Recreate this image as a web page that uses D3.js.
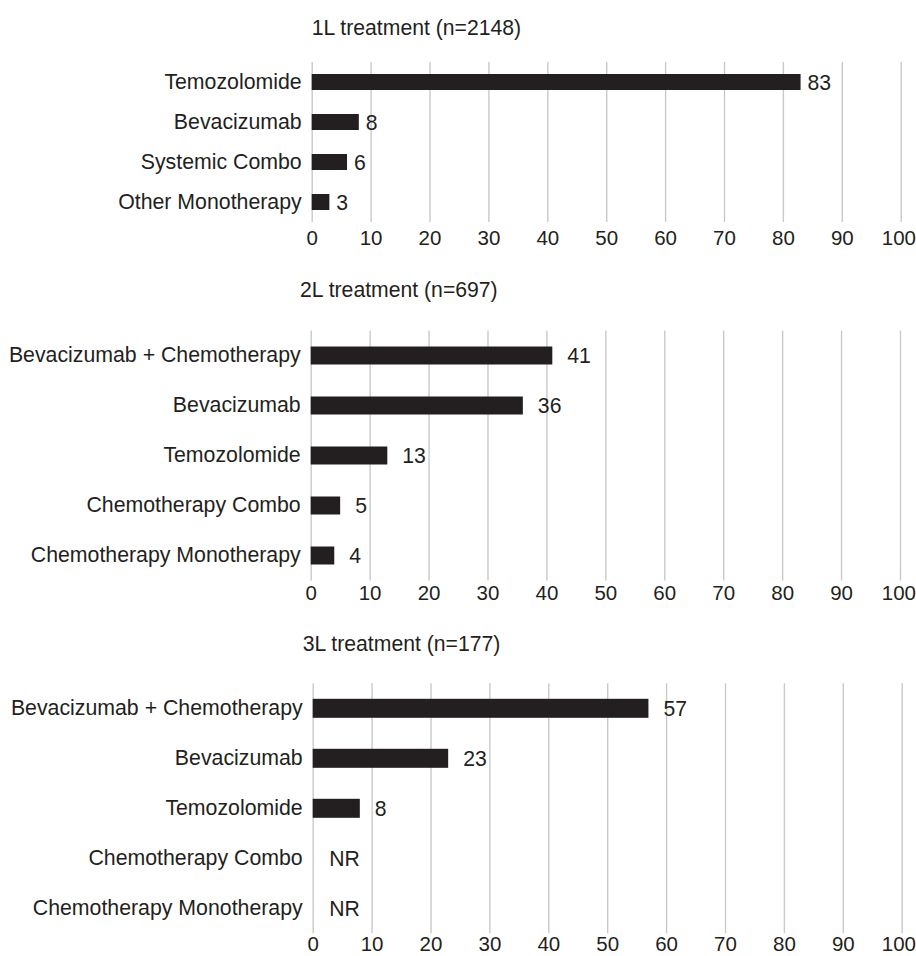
<!DOCTYPE html>
<html>
<head>
<meta charset="utf-8">
<script src="https://cdn.jsdelivr.net/npm/d3@7"></script>
<style>
  html, body { margin: 0; padding: 0; background: #ffffff; }
  svg { display: block; }
  text { font-family: "Liberation Sans", Arial, Helvetica, sans-serif; fill: #231f20; }
</style>
</head>
<body>
<svg id="chart" width="916" height="956"></svg>
<script>
// ---- data ----
const titles = ["1L treatment (n=2148)", "2L treatment (n=697)", "3L treatment (n=177)"];

const firstLineCategories = ["Temozolomide", "Bevacizumab", "Systemic Combo", "Other Monotherapy"];
const firstLineValues = [83, 8, 6, 3];

const secondLineCategories = ["Bevacizumab + Chemotherapy", "Bevacizumab", "Temozolomide",
  "Chemotherapy Combo", "Chemotherapy Monotherapy"];
const secondLineValues = [41, 36, 13, 5, 4];

const thirdLineCategories = ["Bevacizumab + Chemotherapy", "Bevacizumab", "Temozolomide",
  "Chemotherapy Combo", "Chemotherapy Monotherapy"];
const thirdLineValues = [57, 23, 8, null, null]; // null = not reported

const tickValues = [0, 10, 20, 30, 40, 50, 60, 70, 80, 90, 100];
const notReportedLabel = "NR";

// ---- layout per panel ----
const panels = [
  { title: titles[0], cats: firstLineCategories, vals: firstLineValues,
    x0: 311.7, x1: 900.7, top: 62, step: 40, pad: 0.6, labelGap: 7,
    titleX: 311.7, titleY: 35, tickY: 245 },
  { title: titles[1], cats: secondLineCategories, vals: secondLineValues,
    x0: 310.7, x1: 900, top: 330.5, step: 50, pad: 0.64, labelGap: 15,
    titleX: 300, titleY: 297, tickY: 600 },
  { title: titles[2], cats: thirdLineCategories, vals: thirdLineValues,
    x0: 312.7, x1: 901.7, top: 683.3, step: 50, pad: 0.62, labelGap: 15,
    titleX: 302.7, titleY: 651, tickY: 951 }
];

const FS_CAT = 21.3;
const FS_TITLE = 21.2;
const FS_TICK = 20.5;
const FS_VAL = 21.2;
const ink = "#231f20";
const gridColor = "#c9c9c9";
const rightEdge = 915.5;

const svg = d3.select("#chart");

panels.forEach(p => {
  const g = svg.append("g");
  const bottom = p.top + p.step * p.cats.length;

  const x = d3.scaleLinear().domain([0, 100]).range([p.x0, p.x1]);
  const y = d3.scaleBand()
    .domain(p.cats)
    .range([p.top, bottom])
    .paddingInner(p.pad)
    .paddingOuter(p.pad / 2);

  // vertical gridlines
  const grid = g.append("g")
    .attr("transform", `translate(0,${bottom})`)
    .call(d3.axisBottom(x).tickValues(tickValues).tickSize(-(bottom - p.top)).tickFormat(""));
  grid.select(".domain").remove();
  grid.selectAll(".tick line").attr("stroke", gridColor).attr("stroke-width", 1.4);

  // tick labels
  const axis = g.append("g")
    .attr("transform", `translate(0,${p.tickY})`)
    .call(d3.axisBottom(x).tickValues(tickValues).tickSize(0).tickPadding(0).tickFormat(d3.format("d")));
  axis.select(".domain").remove();
  axis.selectAll(".tick text")
    .attr("y", 0).attr("dy", 0)
    .style("font-size", FS_TICK + "px")
    .style("font-family", '"Liberation Sans", Arial, sans-serif')
    .attr("fill", ink);
  // keep the last label inside the page edge
  axis.selectAll(".tick text").each(function (d) {
    const t = d3.select(this);
    const w = this.getComputedTextLength();
    const cx = x(d);
    if (cx + w / 2 > rightEdge) t.attr("x", rightEdge - w / 2 - cx);
  });

  // title
  g.append("text")
    .attr("x", p.titleX).attr("y", p.titleY)
    .style("font-size", FS_TITLE + "px")
    .text(p.title);

  const rows = p.cats.map((c, i) => ({ cat: c, val: p.vals[i] }));

  // category labels
  g.selectAll(".cat").data(rows).join("text")
    .attr("class", "cat")
    .attr("x", p.x0 - 10)
    .attr("y", d => y(d.cat) + y.bandwidth() / 2 + FS_CAT * 0.36 - 1)
    .attr("text-anchor", "end")
    .style("font-size", FS_CAT + "px")
    .text(d => d.cat);

  // bars
  g.selectAll(".bar").data(rows.filter(d => d.val != null)).join("rect")
    .attr("class", "bar")
    .attr("x", x(0))
    .attr("y", d => y(d.cat))
    .attr("width", d => x(d.val) - x(0))
    .attr("height", y.bandwidth())
    .attr("fill", ink);

  // value labels
  g.selectAll(".val").data(rows).join("text")
    .attr("class", "val")
    .attr("x", d => d.val != null ? x(d.val) + p.labelGap : x(0) + 16.6)
    .attr("y", d => y(d.cat) + y.bandwidth() / 2 + FS_VAL * 0.36)
    .style("font-size", FS_VAL + "px")
    .text(d => d.val != null ? d.val : notReportedLabel);
});
</script>
</body>
</html>
